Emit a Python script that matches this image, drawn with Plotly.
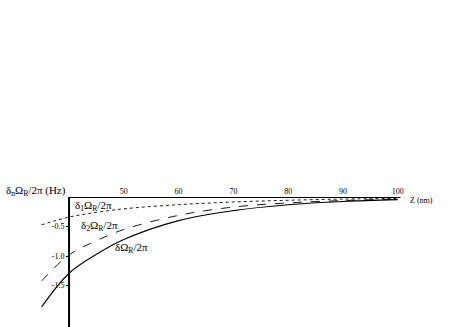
import plotly.graph_objects as go

z = [35, 40, 45, 50, 60, 70, 80, 90, 100]
d_total = [-1.86, -1.29, -0.97, -0.72, -0.40, -0.23, -0.13, -0.075, -0.045]
d2 = [-1.42, -0.98, -0.74, -0.55, -0.31, -0.17, -0.10, -0.06, -0.035]
d1 = [-0.47, -0.34, -0.26, -0.20, -0.13, -0.085, -0.055, -0.035, -0.025]
xticks = [50, 60, 70, 80, 90, 100]
yticks = [-0.5, -1.0, -1.5]

W, H = 469, 327
FONT = "Liberation Serif"

fig = go.Figure()
fig.add_trace(go.Scatter(x=z, y=d1, mode="lines", line=dict(color="black", width=0.9, dash="dot", shape="spline")))
fig.add_trace(go.Scatter(x=z, y=d2, mode="lines", line=dict(color="black", width=0.9, dash="dash", shape="spline")))
fig.add_trace(go.Scatter(x=z, y=d_total, mode="lines", line=dict(color="black", width=1.1, shape="spline")))

# axis lines
fig.add_shape(type="line", xref="x", yref="y", x0=40, x1=100.5, y0=0, y1=0, line=dict(color="black", width=2))
fig.add_shape(type="line", xref="x", yref="paper", x0=40, x1=40, y0=0, y1=1, line=dict(color="black", width=2))

top = 197
plot_h = H - top

def ann(px, py, text, size=11):
    fig.add_annotation(x=px / W, y=(H - py) / plot_h, xref="paper", yref="paper",
                       text=text, showarrow=False, xanchor="center", yanchor="middle",
                       font=dict(family=FONT, size=size, color="black"))

ann(93, 206, "δ<sub>1</sub>Ω<sub>R</sub>/2π")
ann(99, 226, "δ<sub>2</sub>Ω<sub>R</sub>/2π")
ann(131, 248, "δΩ<sub>R</sub>/2π")
ann(36, 191, "δ<sub>n</sub>Ω<sub>R</sub>/2π (Hz)")
ann(421, 200, "Z (nm)", size=8)

fig.update_layout(
    width=W, height=H,
    margin=dict(l=0, r=0, t=top, b=0),
    paper_bgcolor="white", plot_bgcolor="white",
    showlegend=False,
    hovermode=False,
    xaxis=dict(range=[27.4, 113.0], side="top", tickvals=xticks, ticktext=[str(v) for v in xticks],
               showgrid=False, zeroline=False, showline=False, ticks="",
               tickfont=dict(family=FONT, size=8, color="black")),
    yaxis=dict(range=[-2.2, 0], tickvals=yticks, ticktext=["-0.5", "-1.0", "-1.5"],
               showgrid=False, zeroline=False, showline=False, ticks="outside", ticklen=3,
               tickcolor="black", anchor="free", position=(40 - 27.4) / (113.0 - 27.4),
               tickfont=dict(family=FONT, size=8, color="black")),
)
fig.write_html("out.html", config={"displayModeBar": False},
               post_script="document.body.style.margin='0';")
